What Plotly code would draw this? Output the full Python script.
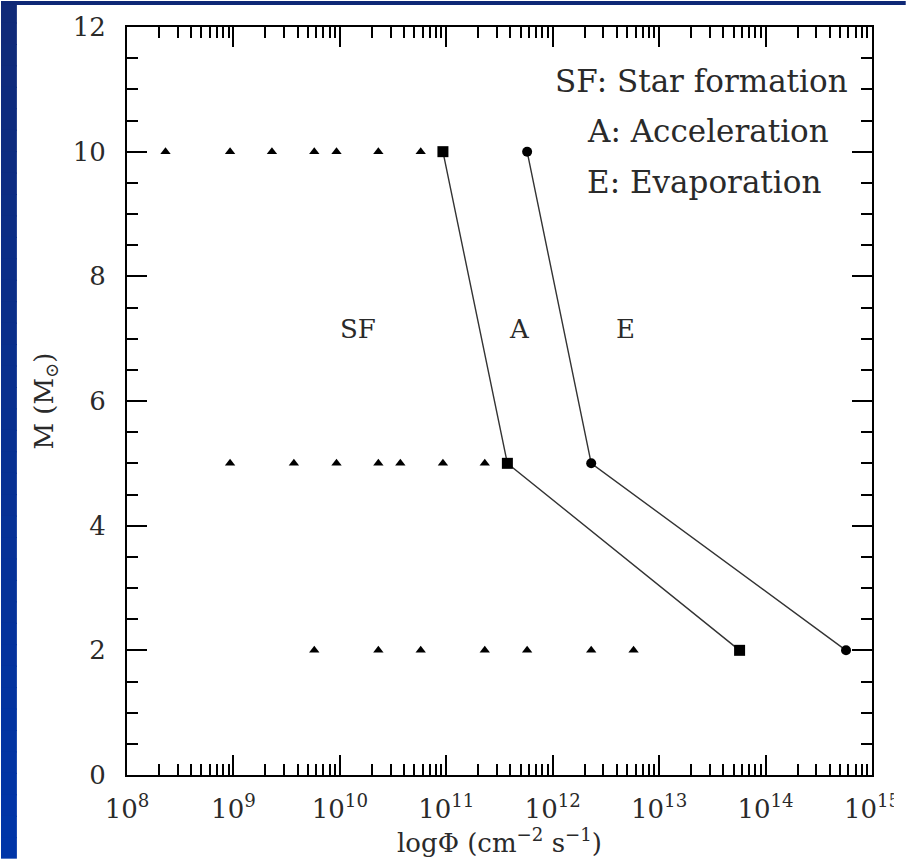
import plotly.graph_objects as go

# ---------------- data ----------------
tri_phi_m10 = [2.3e8, 9.3e8, 2.3e9, 5.75e9, 9.3e9, 2.3e10, 5.75e10]
tri_phi_m5 = [9.3e8, 3.7e9, 9.3e9, 2.3e10, 3.7e10, 9.3e10, 2.3e11]
tri_phi_m2 = [5.75e9, 2.3e10, 5.75e10, 2.3e11, 5.75e11, 2.3e12, 5.75e12]
tri_m = [10, 5, 2]

accel_phi = [9.3e10, 3.75e11, 5.7e13]   # squares: SF / Acceleration boundary
accel_m = [10, 5, 2]
evap_phi = [5.75e11, 2.3e12, 5.7e14]    # circles: Acceleration / Evaporation boundary
evap_m = [10, 5, 2]

x_tick_exps = [8, 9, 10, 11, 12, 13, 14, 15]
y_tick_vals = [0, 2, 4, 6, 8, 10, 12]

region_labels = ["SF", "A", "E"]
legend_lines = ["SF: Star formation", "A: Acceleration", "E: Evaporation"]

# ---------------- figure ----------------
W, H = 912, 861
ML, MR, MT, MB = 127, 34, 26, 84
PW, PH = W - ML - MR, H - MT - MB

def px_x(p):
    return (p - ML) / PW

def px_y(p):
    return (H - MB - p) / PH

FONT = "DejaVu Serif"
TXT = "#2a2a2a"

fig = go.Figure()

tri_phi = tri_phi_m10 + tri_phi_m5 + tri_phi_m2
tri_y = [tri_m[0]] * len(tri_phi_m10) + [tri_m[1]] * len(tri_phi_m5) + [tri_m[2]] * len(tri_phi_m2)
fig.add_trace(go.Scatter(x=tri_phi, y=tri_y, mode="markers",
                         marker=dict(symbol="triangle-up", size=9, color="black"),
                         showlegend=False))
fig.add_trace(go.Scatter(x=accel_phi, y=accel_m, mode="lines+markers",
                         line=dict(color="#333333", width=1.4),
                         marker=dict(symbol="square", size=11, color="black"),
                         showlegend=False))
fig.add_trace(go.Scatter(x=evap_phi, y=evap_m, mode="lines+markers",
                         line=dict(color="#333333", width=1.4),
                         marker=dict(symbol="circle", size=10, color="black"),
                         showlegend=False))

minor_x = [k * 10 ** n for n in range(8, 15) for k in range(2, 10)]

fig.update_xaxes(
    type="log", range=[8, 15],
    tickmode="array", tickvals=[10 ** e for e in x_tick_exps],
    ticktext=[f"10<sup>{e}</sup>" for e in x_tick_exps],
    ticks="inside", ticklen=20, tickwidth=1.5, tickcolor="black",
    minor=dict(tickmode="array", tickvals=minor_x, ticks="inside", ticklen=11,
               tickwidth=1.5, tickcolor="black", showgrid=False),
    showline=True, linewidth=2, linecolor="black", mirror="ticks",
    showgrid=False, zeroline=False,
    tickfont=dict(family=FONT, size=26, color=TXT),
    ticklabelstandoff=10,
    title=dict(text="logΦ (cm<sup>−2</sup> s<sup>−1</sup>)",
               font=dict(family=FONT, size=26, color=TXT), standoff=7),
)
fig.update_yaxes(
    range=[0, 12], tickmode="array", tickvals=y_tick_vals,
    ticks="inside", ticklen=20, tickwidth=1.5, tickcolor="black",
    minor=dict(dtick=0.5, ticks="inside", ticklen=11, tickwidth=1.5,
               tickcolor="black", showgrid=False),
    showline=True, linewidth=2, linecolor="black", mirror="ticks",
    showgrid=False, zeroline=False,
    tickfont=dict(family=FONT, size=26, color=TXT),
    ticklabelstandoff=14,
    title=dict(text="M (M<sub>⊙</sub>)", font=dict(family=FONT, size=26, color=TXT),
               standoff=12),
)

# region labels
region_x = [10.17, 11.684, 12.687]
for lab, xl in zip(region_labels, region_x):
    fig.add_annotation(x=xl, y=7.15, text=lab, showarrow=False,
                       font=dict(family=FONT, size=26, color=TXT),
                       xanchor="center", yanchor="middle")

legend_x = [12.003, 12.30, 12.30]
legend_y = [11.126, 10.327, 9.512]
for t, xl, yl in zip(legend_lines, legend_x, legend_y):
    fig.add_annotation(x=xl, y=yl, text=t, showarrow=False,
                       font=dict(family=FONT, size=31, color=TXT),
                       xanchor="left", yanchor="middle")

# blue slide background: left strip + top band (vertical gradient)
shapes = []
n = 40
top_c = (16, 42, 120)
bot_c = (0, 53, 168)
for i in range(n):
    y0 = H * i / n
    y1 = H * (i + 1) / n + 1
    f = i / (n - 1)
    c = tuple(int(round(a + (b - a) * f)) for a, b in zip(top_c, bot_c))
    shapes.append(dict(type="rect", xref="paper", yref="paper",
                       x0=px_x(0), x1=px_x(16), y0=px_y(min(y1, H)), y1=px_y(y0),
                       fillcolor=f"rgb{c}", line=dict(width=0), layer="above"))
shapes.append(dict(type="rect", xref="paper", yref="paper",
                   x0=px_x(0), x1=px_x(W), y0=px_y(4), y1=px_y(0),
                   fillcolor="rgb(14,40,118)", line=dict(width=0), layer="above"))
# right white margin (image cropped)
shapes.append(dict(type="rect", xref="paper", yref="paper",
                   x0=px_x(900), x1=px_x(W), y0=px_y(H), y1=px_y(4),
                   fillcolor="white", line=dict(width=0), layer="above"))

fig.update_layout(
    width=W, height=H,
    margin=dict(l=ML, r=MR, t=MT, b=MB),
    paper_bgcolor="white", plot_bgcolor="white",
    shapes=shapes,
    showlegend=False,
)

fig.write_html("out.html", config={"displayModeBar": False},
               post_script="document.body.style.margin='0';document.body.style.overflow='hidden';")
